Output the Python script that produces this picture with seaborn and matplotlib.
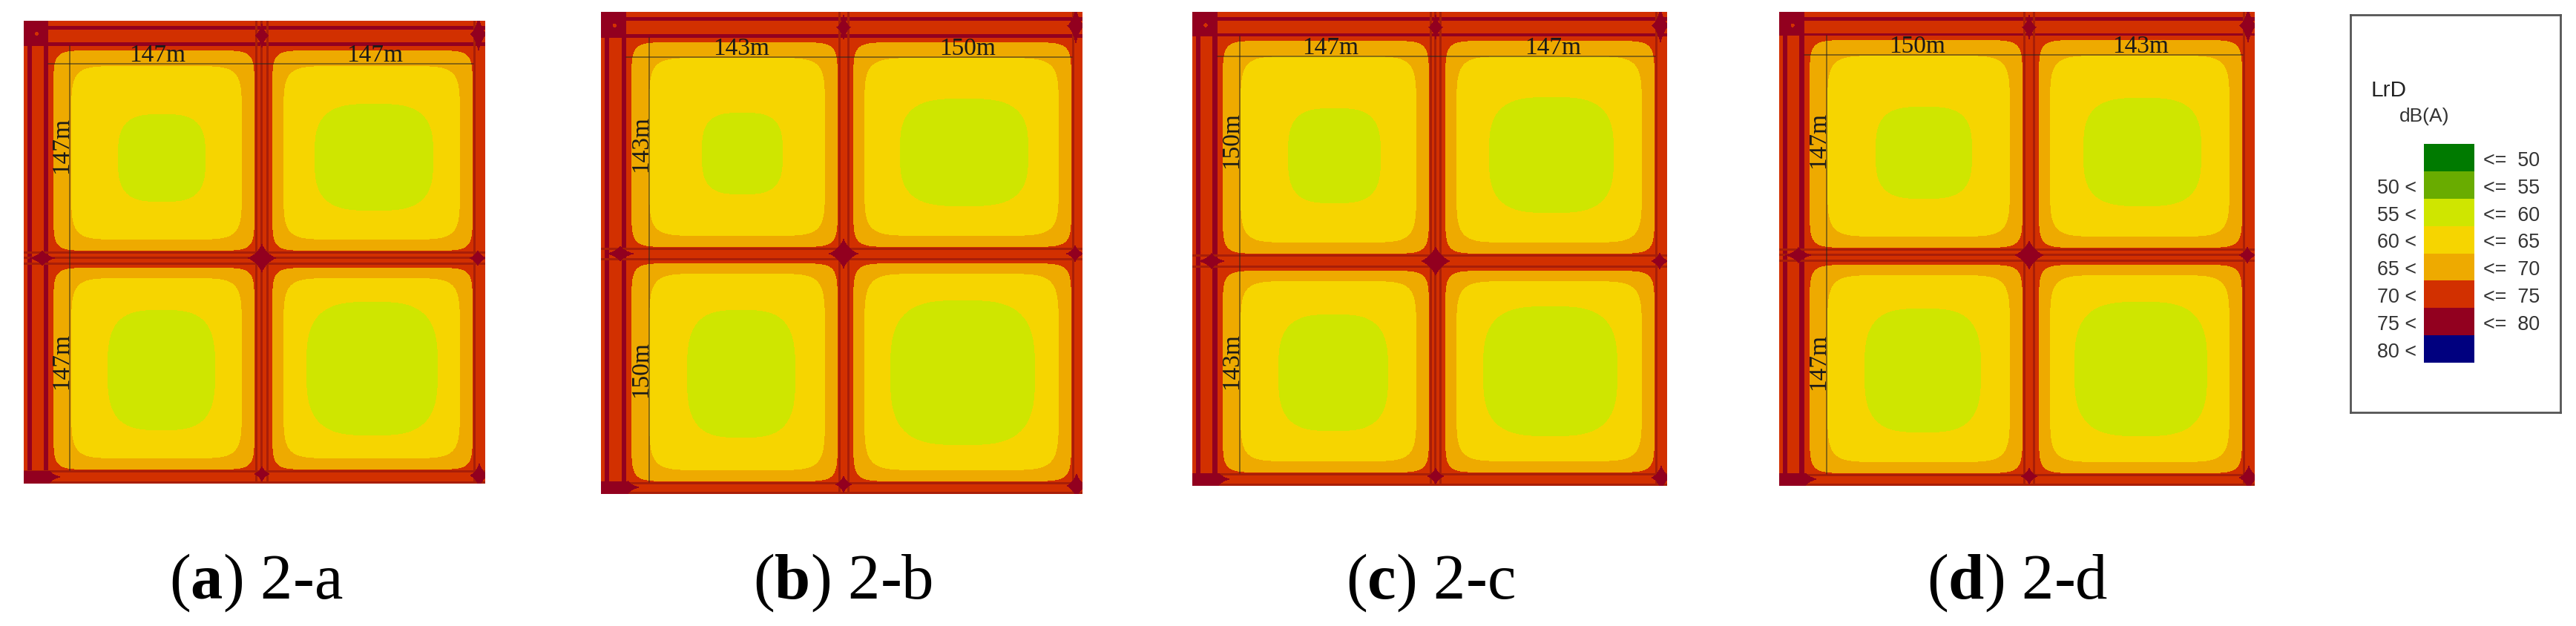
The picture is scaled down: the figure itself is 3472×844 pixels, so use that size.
import numpy as np
import matplotlib
matplotlib.use("Agg")
import matplotlib.pyplot as plt
from matplotlib.colors import ListedColormap
import seaborn as sns

W, H = 3473, 844

sns.set_style("white")
plt.rcParams["mathtext.fontset"] = "custom"
plt.rcParams["mathtext.bf"] = "Liberation Serif:bold"
plt.rcParams["mathtext.rm"] = "Liberation Serif"

# noise classes, quiet to loud (last entry = thin road line in the maps)
level_colors = ["#007a00", "#69ac00", "#cfe600", "#f6d500", "#eeaa00",
                "#d23000", "#92001f", "#00007f", "#a81e08"]
ORANGE, YELLOW, GREEN, RED, DARK, LINE = 4, 3, 2, 5, 6, 8

captions = [r"($\mathbf{a}$) 2-a", r"($\mathbf{b}$) 2-b", r"($\mathbf{c}$) 2-c", r"($\mathbf{d}$) 2-d"]
caption_x = [345, 1136, 1928, 2719]

# where each map sits in the picture: left, top, width, height
panel_boxes = [(32, 28, 622, 624), (810, 16, 649, 650),
               (1607, 16, 640, 639), (2398, 16, 641, 639)]

# block edges on each map
x_edges = [[33, 312, 330, 606], [34, 320, 335, 635],
           [34, 320, 336, 624], [34, 329, 345, 625]]
y_edges = [[34, 311, 329, 606], [35, 318, 335, 634],
           [33, 327, 345, 622], [32, 319, 337, 623]]

# inner roads that show a centre line
centre_line_x = [True, False, True, False]
centre_line_y = [True, False, False, True]

# 55-60 dB(A) patch of every block (x0, x1, y0, y1): TL, TR, BL, BR
quiet_a = [(127, 245, 126, 244), (392, 552, 112, 256), (113, 258, 390, 552), (381, 558, 379, 559)]
quiet_b = [(136, 245, 136, 246), (403, 576, 117, 262), (116, 262, 402, 574), (390, 585, 389, 584)]
quiet_c = [(129, 254, 130, 258), (400, 568, 115, 271), (116, 264, 408, 565), (392, 573, 397, 572)]
quiet_d = [(130, 260, 128, 252), (410, 569, 116, 262), (115, 272, 400, 567), (398, 577, 391, 572)]
quiet_patches = [quiet_a, quiet_b, quiet_c, quiet_d]

# distance of the contours from the block edge: left col/right col, right, top row/lower row, bottom
orange_inset = [(7, 5), 1, (6, 4), 1]
yellow_inset = [(31, 20), 18, (27, 18), 16]

# dimension labels
x_labels = [["147m", "147m"], ["143m", "150m"], ["147m", "147m"], ["150m", "143m"]]
y_labels = [["147m", "147m"], ["143m", "150m"], ["150m", "143m"], ["147m", "147m"]]
x_label_pos = [[180, 473], [189, 494], [186, 486], [186, 487]]
y_label_pos = [[168, 459], [178, 482], [173, 471], [173, 472]]
h_lines = [58, 61, 60, 58]
v_lines = [62, 65, 64, 64]

# legend
legend_levels = [0, 1, 2, 3, 4, 5, 6, 7]
legend_left = ["", "50 <", "55 <", "60 <", "65 <", "70 <", "75 <", "80 <"]
legend_right = ["<=  50", "<=  55", "<=  60", "<=  65", "<=  70", "<=  75", "<=  80", ""]


def rounded(xx, yy, x0, x1, y0, y1, p):
    cx, cy = (x0 + x1) / 2, (y0 + y1) / 2
    return np.abs(2 * (xx - cx) / (x1 - x0)) ** p + np.abs(2 * (yy - cy) / (y1 - y0)) ** p <= 1


def star(xx, yy, cx, cy, a, b):
    return (np.abs(xx - cx) / a) ** 0.7 + (np.abs(yy - cy) / b) ** 0.7 <= 1


def build_map(w, h, xe, ye, patches, line_x, line_y):
    xx, yy = np.meshgrid(np.arange(w) + 0.5, np.arange(h) + 0.5)
    z = np.full((h, w), RED)
    s = w / 622

    # outer roads
    z[:, int(5 * s):int(11 * s)] = DARK
    z[:, int(27 * s):xe[0]] = DARK
    z[int(7 * s):int(12 * s), :] = DARK
    z[int(29 * s):ye[0], :] = DARK
    z[:, xe[3]:xe[3] + 3] = LINE
    z[ye[3]:ye[3] + 3, :] = LINE
    z[h - 3:, :] = LINE

    # inner roads, lines on the sides and sometimes in the middle
    xm, ym = (xe[1] + xe[2]) // 2, (ye[1] + ye[2]) // 2
    for c in [xe[1], xe[2] - 3] + ([xm - 2] if line_x else []):
        z[:, c:c + 3] = LINE
    for c in [ye[1], ye[2] - 3] + ([ym - 2] if line_y else []):
        z[c:c + 3, :] = LINE

    # blocks
    for i, (x0, x1, y0, y1) in enumerate(patches):
        col, row = i % 2, i // 2
        bx0, bx1 = xe[col * 2], xe[col * 2 + 1]
        by0, by1 = ye[row * 2], ye[row * 2 + 1]
        if col == 0:
            bx1 -= 0
        o = orange_inset
        z[rounded(xx, yy, bx0 + o[0][col], bx1 - o[1], by0 + o[2][row], by1 - o[3], 13)] = ORANGE
        o = yellow_inset
        z[rounded(xx, yy, bx0 + o[0][col], bx1 - o[1], by0 + o[2][row], by1 - o[3], 8)] = YELLOW
        z[rounded(xx, yy, x0, x1, y0, y1, 3.2)] = GREEN

    # junctions
    z[:ye[0], :xe[0]] = DARK
    z[rounded(xx, yy, 15 * s, 20 * s, 15 * s, 20 * s, 2)] = RED
    z[h - int(17 * s):, :int(35 * s)] = DARK
    for cx, cy, a, b in [(xm, ym, 21, 21), (xm, 20 * s, 10, 19), (w - 9, 18 * s, 12, 26),
                         (25 * s, ym, 20, 11), (w - 10, ym, 13, 12), (xm, h - 13, 12, 12),
                         (w - 8, h - 11, 14, 18), (35 * s, h - 9, 17, 9)]:
        z[star(xx, yy, cx, cy, a * s, b * s)] = DARK
    return z


cmap = ListedColormap(level_colors)
fig = plt.figure(figsize=(W / 100, H / 100), dpi=100)
fig.patch.set_facecolor("white")


def px_axes(x, y, w, h):
    return fig.add_axes([x / W, 1 - (y + h) / H, w / W, h / H])


for i, (px, py, w, h) in enumerate(panel_boxes):
    ax = px_axes(px, py, w, h)
    z = build_map(w, h, x_edges[i], y_edges[i], quiet_patches[i], centre_line_x[i], centre_line_y[i])
    sns.heatmap(z, ax=ax, cmap=cmap, vmin=-0.5, vmax=8.5, cbar=False,
                xticklabels=False, yticklabels=False, linewidths=0)

    xe, ye = x_edges[i], y_edges[i]
    ax.plot([xe[0], xe[3]], [h_lines[i], h_lines[i]], color="#222222", lw=1.1, alpha=0.65)
    ax.plot([v_lines[i], v_lines[i]], [ye[0], ye[3]], color="#222222", lw=1.1, alpha=0.65)
    for xp, label in zip(x_label_pos[i], x_labels[i]):
        ax.text(xp, h_lines[i] - 3, label, family="Liberation Serif", fontsize=24,
                color="#1a1a1a", ha="center", va="baseline")
    for yp, label in zip(y_label_pos[i], y_labels[i]):
        ax.text(v_lines[i] - 3, yp, label, family="Liberation Serif", fontsize=24,
                color="#1a1a1a", ha="center", va="baseline", rotation=90, rotation_mode="anchor")

    fig.text(caption_x[i] / W, 1 - 807 / H, captions[i], family="Liberation Serif",
             fontsize=62.5, ha="center", va="baseline", color="black")

# legend frame
box = px_axes(3168, 20, 283, 536)
box.set_xlim(3168, 3451)
box.set_ylim(556, 20)
box.set_xticks([])
box.set_yticks([])
for sp in box.spines.values():
    sp.set_visible(True)
    sp.set_color("#555555")
    sp.set_linewidth(2)
box.text(3196, 130, "LrD", family="Liberation Sans", fontsize=21.5, color="#222222", va="baseline")
box.text(3234, 164, "dB(A)", family="Liberation Sans", fontsize=19, color="#333333", va="baseline")

swatch = px_axes(3267, 194, 68, 295)
sns.heatmap(np.array(legend_levels).reshape(-1, 1), ax=swatch, cmap=cmap, vmin=-0.5, vmax=8.5,
            cbar=False, xticklabels=False, yticklabels=False, linewidths=0)
for i, (left, right) in enumerate(zip(legend_left, legend_right)):
    swatch.text(-0.15, i + 0.62, left, transform=swatch.get_yaxis_transform(), clip_on=False,
                family="Liberation Sans", fontsize=19.4, color="#333333", ha="right", va="center")
    swatch.text(1.18, i + 0.62, right, transform=swatch.get_yaxis_transform(), clip_on=False,
                family="Liberation Sans", fontsize=19.4, color="#333333", ha="left", va="center")

fig.savefig("out.png", dpi=100)
